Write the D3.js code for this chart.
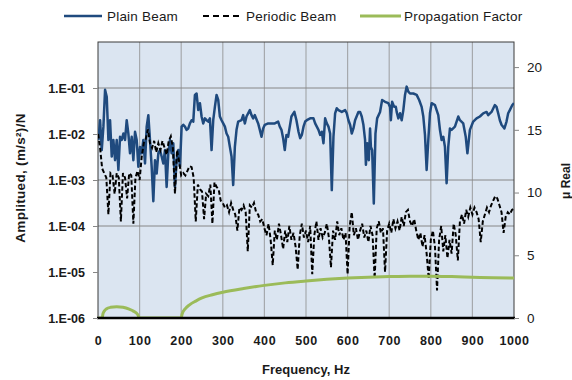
<!DOCTYPE html>
<html>
<head>
<meta charset="utf-8">
<script src="https://cdn.jsdelivr.net/npm/d3@7"></script>
<style>
  body { margin: 0; background: #fff; }
  svg { display: block; font-family: "Liberation Sans", Arial, sans-serif; }
</style>
</head>
<body>
<svg id="chart" width="572" height="380"></svg>
<script>
// ---- axis ticks ----
const xTickValues = [0, 100, 200, 300, 400, 500, 600, 700, 800, 900, 1000];
const yTickValues = [1e-6, 1e-5, 1e-4, 1e-3, 1e-2, 1e-1];
const yTickLabels = ["1.E-06", "1.E-05", "1.E-04", "1.E-03", "1.E-02", "1.E-01"];
const yGridValues = [1e-1, 1e-3, 1e-4];
const muTickValues = [0, 5, 10, 15, 20];

const seriesNames = ["Plain Beam", "Periodic Beam", "Propagation Factor"];

// Plain beam response: [frequency (Hz), log10 amplitude ((m/s²)/N)]
const plainBeam = [
  [1,-2.13],[5,-1.70],[9,-2.35],[13,-1.84],[17,-1.04],[21,-1.19],[25,-2.13],[29,-1.70],
  [33,-2.49],[37,-2.13],[41,-2.57],[45,-2.13],[49,-2.78],[53,-2.06],[57,-2.13],[61,-1.99],
  [65,-2.13],[69,-1.70],[73,-1.99],[77,-2.42],[81,-2.06],[85,-2.57],[89,-1.95],[93,-2.13],
  [97,-2.71],[101,-2.28],[105,-2.42],[109,-2.13],[113,-2.64],[117,-1.84],[121,-1.59],[125,-2.13],
  [129,-2.71],[133,-3.46],[137,-2.57],[141,-2.86],[145,-2.42],[149,-2.35],[153,-2.49],[157,-2.64],
  [161,-2.35],[165,-3.15],[169,-2.42],[173,-2.13],[177,-2.42],[181,-2.20],[185,-3.15],[189,-2.57],
  [193,-2.35],[197,-2.71],[201,-1.84],[205,-1.80],[209,-1.84],[213,-1.91],[217,-1.88],[221,-1.77],
  [225,-1.70],[229,-1.73],[233,-1.15],[237,-1.12],[241,-1.48],[245,-1.33],[249,-1.62],[253,-1.77],
  [257,-1.66],[261,-1.70],[265,-1.73],[269,-1.66],[273,-2.35],[277,-1.70],[281,-1.41],[285,-1.15],
  [289,-1.26],[293,-1.62],[297,-1.70],[301,-1.77],[305,-1.84],[309,-1.99],[313,-2.06],[317,-2.28],
  [321,-2.49],[325,-3.11],[329,-2.28],[333,-1.91],[337,-1.73],[345,-1.70],[349,-1.59],[353,-1.77],
  [357,-1.62],[365,-1.48],[369,-1.59],[373,-1.66],[377,-1.59],[385,-1.77],[389,-1.91],[393,-2.06],
  [397,-1.88],[401,-1.80],[409,-1.77],[417,-1.77],[425,-1.77],[433,-1.73],[437,-1.84],[441,-1.91],
  [445,-2.09],[449,-2.35],[453,-2.02],[457,-2.06],[461,-1.84],[465,-1.62],[472,-1.52],[477,-1.70],
  [482,-1.95],[486,-2.09],[490,-2.02],[494,-1.84],[498,-1.73],[502,-1.70],[510,-1.66],[518,-1.66],
  [522,-1.77],[526,-1.84],[530,-1.91],[534,-2.02],[538,-1.95],[542,-2.20],[546,-1.66],[550,-1.77],
  [554,-1.84],[558,-1.99],[562,-3.22],[566,-2.06],[570,-1.55],[574,-1.44],[578,-1.48],[586,-1.52],
  [594,-1.48],[598,-1.55],[602,-1.70],[606,-1.80],[610,-1.99],[614,-1.88],[618,-1.70],[626,-1.52],
  [630,-1.52],[634,-1.62],[638,-1.80],[642,-2.13],[644,-2.67],[647,-2.20],[651,-2.57],[654,-1.88],
  [656,-2.28],[659,-2.35],[663,-3.51],[667,-1.99],[671,-1.66],[678,-1.52],[683,-1.26],[690,-1.30],
  [698,-1.33],[702,-1.41],[704,-1.70],[707,-1.30],[712,-1.41],[716,-1.41],[718,-1.52],[722,-1.66],
  [726,-1.55],[730,-1.70],[734,-1.48],[738,-1.15],[742,-0.97],[746,-1.08],[750,-1.12],[758,-1.12],
  [766,-1.15],[772,-1.26],[778,-1.41],[782,-1.62],[786,-2.02],[790,-2.78],[794,-2.13],[798,-1.55],
  [802,-1.33],[810,-1.37],[814,-1.48],[818,-1.59],[822,-1.91],[826,-2.13],[830,-2.06],[834,-2.28],
  [838,-3.07],[842,-2.28],[846,-1.88],[850,-1.91],[858,-1.84],[866,-1.62],[870,-1.70],[878,-1.77],
  [884,-2.06],[888,-2.42],[894,-1.91],[902,-1.73],[910,-1.66],[918,-1.62],[926,-1.55],[934,-1.52],
  [938,-1.59],[946,-1.52],[954,-1.37],[958,-1.41],[962,-1.55],[966,-1.70],[970,-1.80],[977,-1.88],
  [982,-1.73],[986,-1.55],[990,-1.48],[996,-1.37],[1000,-1.33]
];

// Periodic beam response, log10 amplitude, one value every 5 Hz from 0 Hz
const periodicStartHz = 0;
const periodicStepHz = 5;
const periodicBeam = [
  -2.0,-2.3,-2.75,-2.85,-2.95,-3.75,-2.85,-2.9,-3.3,-2.85,
  -2.95,-3.9,-2.85,-2.95,-3.4,-2.85,-2.9,-3.95,-2.95,-2.8,
  -3.0,-2.5,-2.2,-2.1,-1.9,-2.2,-2.3,-2.15,-2.4,-2.2,
  -2.35,-2.15,-2.3,-2.45,-2.15,-2.05,-2.3,-3.3,-2.35,-2.6,
  -2.9,-2.85,-2.9,-2.8,-2.7,-2.72,-2.95,-3.9,-3.1,-3.2,
  -3.25,-3.85,-3.3,-3.35,-3.1,-3.95,-3.05,-3.15,-3.2,-3.45,
  -3.5,-3.6,-3.55,-3.7,-3.5,-3.65,-3.75,-4.1,-3.6,-3.65,
  -3.55,-3.7,-4.55,-3.55,-3.6,-3.5,-3.7,-3.75,-3.9,-3.85,
  -4.05,-4.2,-3.95,-4.3,-4.85,-4.1,-4.3,-3.95,-4.2,-4.5,
  -4.1,-4.35,-4.0,-4.3,-4.15,-4.45,-4.95,-4.2,-3.95,-4.25,
  -4.1,-4.35,-4.0,-5.05,-4.2,-3.9,-4.3,-4.05,-4.25,-4.15,
  -3.95,-4.25,-4.9,-4.1,-4.3,-3.9,-4.2,-4.05,-4.3,-4.15,
  -5.05,-4.0,-3.7,-4.2,-4.05,-4.3,-4.1,-3.95,-4.25,-4.1,
  -4.35,-4.0,-4.2,-5.15,-4.05,-3.9,-4.15,-4.05,-5.0,-4.1,
  -3.95,-4.15,-3.85,-4.05,-3.9,-4.1,-3.8,-4.0,-3.7,-3.65,
  -3.9,-4.0,-3.85,-4.1,-4.3,-4.15,-4.45,-4.2,-4.6,-5.15,
  -4.3,-4.1,-4.45,-5.4,-4.3,-4.0,-4.55,-4.2,-4.7,-4.3,
  -4.6,-3.95,-4.2,-4.75,-3.9,-3.75,-3.95,-3.65,-3.8,-3.6,
  -3.75,-3.6,-3.7,-3.85,-4.35,-3.9,-3.75,-3.6,-3.7,-3.55,
  -3.45,-3.35,-3.4,-3.55,-3.7,-4.15,-3.8,-3.7,-3.75,-3.65,
  -3.62
];

// Propagation factor (real part of μ): [frequency (Hz), μ]
const propagation = [
  [0,0],[10,0],[12,0.35],[15,0.55],[20,0.72],[30,0.85],[45,0.9],[60,0.85],[75,0.7],[85,0.55],
  [95,0.3],[100,0],[200,0],[202,0.3],[210,0.75],[220,1.05],[235,1.35],[250,1.6],[275,1.85],
  [300,2.05],[350,2.35],[400,2.6],[450,2.8],[500,2.95],[550,3.08],[600,3.18],[650,3.25],
  [700,3.3],[750,3.33],[800,3.33],[850,3.3],[900,3.25],[950,3.2],[1000,3.18]
];

// ---- layout ----
const svg = d3.select("#chart");
const plotLeft = 98, plotRight = 514, plotTop = 42, plotBottom = 318;

const x = d3.scaleLinear().domain([0, 1000]).range([plotLeft, plotRight]);
const y = d3.scaleLog().domain([1e-6, 1]).range([plotBottom, plotTop]);
const yMu = d3.scaleLinear().domain([0, 22]).range([plotBottom, plotTop]);

// plot area
svg.append("rect")
  .attr("x", plotLeft).attr("y", plotTop)
  .attr("width", plotRight - plotLeft).attr("height", plotBottom - plotTop)
  .attr("fill", "#dbe5f1");

svg.append("defs").append("clipPath").attr("id", "plotClip")
  .append("rect").attr("x", plotLeft).attr("y", plotTop)
  .attr("width", plotRight - plotLeft).attr("height", plotBottom - plotTop);

// grid
svg.append("g").selectAll("line")
  .data(xTickValues.filter(d => d > 0 && d < 1000))
  .join("line")
  .attr("x1", d => x(d)).attr("x2", d => x(d))
  .attr("y1", plotTop).attr("y2", plotBottom)
  .attr("stroke", "#a6a9ad").attr("stroke-width", 1.2);

svg.append("g").selectAll("line")
  .data(yGridValues)
  .join("line")
  .attr("x1", plotLeft).attr("x2", plotRight)
  .attr("y1", d => y(d)).attr("y2", d => y(d))
  .attr("stroke", "#868686").attr("stroke-width", 1);

// frame
svg.append("rect")
  .attr("x", plotLeft).attr("y", plotTop)
  .attr("width", plotRight - plotLeft).attr("height", plotBottom - plotTop)
  .attr("fill", "none").attr("stroke", "#3a3a3a").attr("stroke-width", 1);

// ---- series ----
const plot = svg.append("g").attr("clip-path", "url(#plotClip)");

const logLine = d3.line()
  .x(d => x(d[0]))
  .y(d => y(Math.pow(10, d[1])));

plot.append("path")
  .datum(plainBeam)
  .attr("d", logLine)
  .attr("fill", "none")
  .attr("stroke", "#1f4a7e")
  .attr("stroke-width", 2.5)
  .attr("stroke-linejoin", "round");

const periodicPoints = periodicBeam.map((v, i) => [periodicStartHz + i * periodicStepHz, v]);
plot.append("path")
  .datum(periodicPoints)
  .attr("d", logLine)
  .attr("fill", "none")
  .attr("stroke", "#000")
  .attr("stroke-width", 2)
  .attr("stroke-dasharray", "4.5,2.5");

plot.append("path")
  .datum(propagation)
  .attr("d", d3.line().x(d => x(d[0])).y(d => yMu(d[1])).curve(d3.curveMonotoneX))
  .attr("fill", "none")
  .attr("stroke", "#9bbb59")
  .attr("stroke-width", 3)
  .attr("stroke-linecap", "round");

// x axis baseline
svg.append("line")
  .attr("x1", plotLeft - 1).attr("x2", plotRight + 1)
  .attr("y1", plotBottom).attr("y2", plotBottom)
  .attr("stroke", "#000").attr("stroke-width", 2.5);

// ---- axes ----
const tickFont = g => g.selectAll("text")
  .attr("font-family", "'Liberation Sans', Arial, sans-serif")
  .attr("font-weight", "bold")
  .attr("font-size", 12.5)
  .attr("fill", "#1a1a1a");

const yAxis = svg.append("g")
  .attr("transform", `translate(${plotLeft},0)`)
  .call(d3.axisLeft(y).tickValues(yTickValues)
    .tickFormat((d, i) => yTickLabels[i]).tickSize(5).tickPadding(8));
yAxis.select(".domain").remove();
yAxis.selectAll(".tick line").attr("stroke", "#868686");
tickFont(yAxis);

const muAxis = svg.append("g")
  .attr("transform", `translate(${plotRight},0)`)
  .call(d3.axisRight(yMu).tickValues(muTickValues).tickSize(5).tickPadding(8));
muAxis.select(".domain").remove();
muAxis.selectAll(".tick line").attr("stroke", "#868686");
tickFont(muAxis);
muAxis.selectAll("text").attr("font-weight", "normal").attr("font-size", 13.5);

const xAxis = svg.append("g")
  .attr("transform", `translate(0,${plotBottom})`)
  .call(d3.axisBottom(x).tickValues(xTickValues).tickFormat(d3.format("d"))
    .tickSize(0).tickPadding(18));
xAxis.select(".domain").remove();
tickFont(xAxis);
xAxis.selectAll("text").attr("letter-spacing", 0.6);

// axis titles
svg.append("text")
  .attr("x", (plotLeft + plotRight) / 2).attr("y", 374)
  .attr("text-anchor", "middle")
  .attr("font-weight", "bold").attr("font-size", 13)
  .attr("fill", "#1a1a1a")
  .text("Frequency, Hz");

svg.append("text")
  .attr("transform", "translate(25,178) rotate(-90)")
  .attr("text-anchor", "middle")
  .attr("font-weight", "bold").attr("font-size", 13.5)
  .attr("letter-spacing", 0.3)
  .attr("fill", "#1a1a1a")
  .text("Amplitued, (m/s²)/N");

svg.append("text")
  .attr("transform", "translate(570,181) rotate(-90)")
  .attr("text-anchor", "middle")
  .attr("font-weight", "bold").attr("font-size", 12)
  .attr("fill", "#1a1a1a")
  .text("μ Real");

// ---- legend ----
const legendItems = [
  { name: seriesNames[0], x1: 64, x2: 102, tx: 107, stroke: "#1f4a7e", width: 2.5, dash: null },
  { name: seriesNames[1], x1: 203, x2: 241, tx: 246, stroke: "#000", width: 2, dash: "6,4" },
  { name: seriesNames[2], x1: 360, x2: 401, tx: 404, stroke: "#9bbb59", width: 3, dash: null }
];
const legend = svg.append("g");
legendItems.forEach(it => {
  legend.append("line")
    .attr("x1", it.x1).attr("x2", it.x2).attr("y1", 16).attr("y2", 16)
    .attr("stroke", it.stroke).attr("stroke-width", it.width)
    .attr("stroke-dasharray", it.dash);
  legend.append("text")
    .attr("x", it.tx).attr("y", 21)
    .attr("font-size", 13.5).attr("letter-spacing", 0.2)
    .attr("fill", "#1a1a1a")
    .text(it.name);
});
</script>
</body>
</html>
